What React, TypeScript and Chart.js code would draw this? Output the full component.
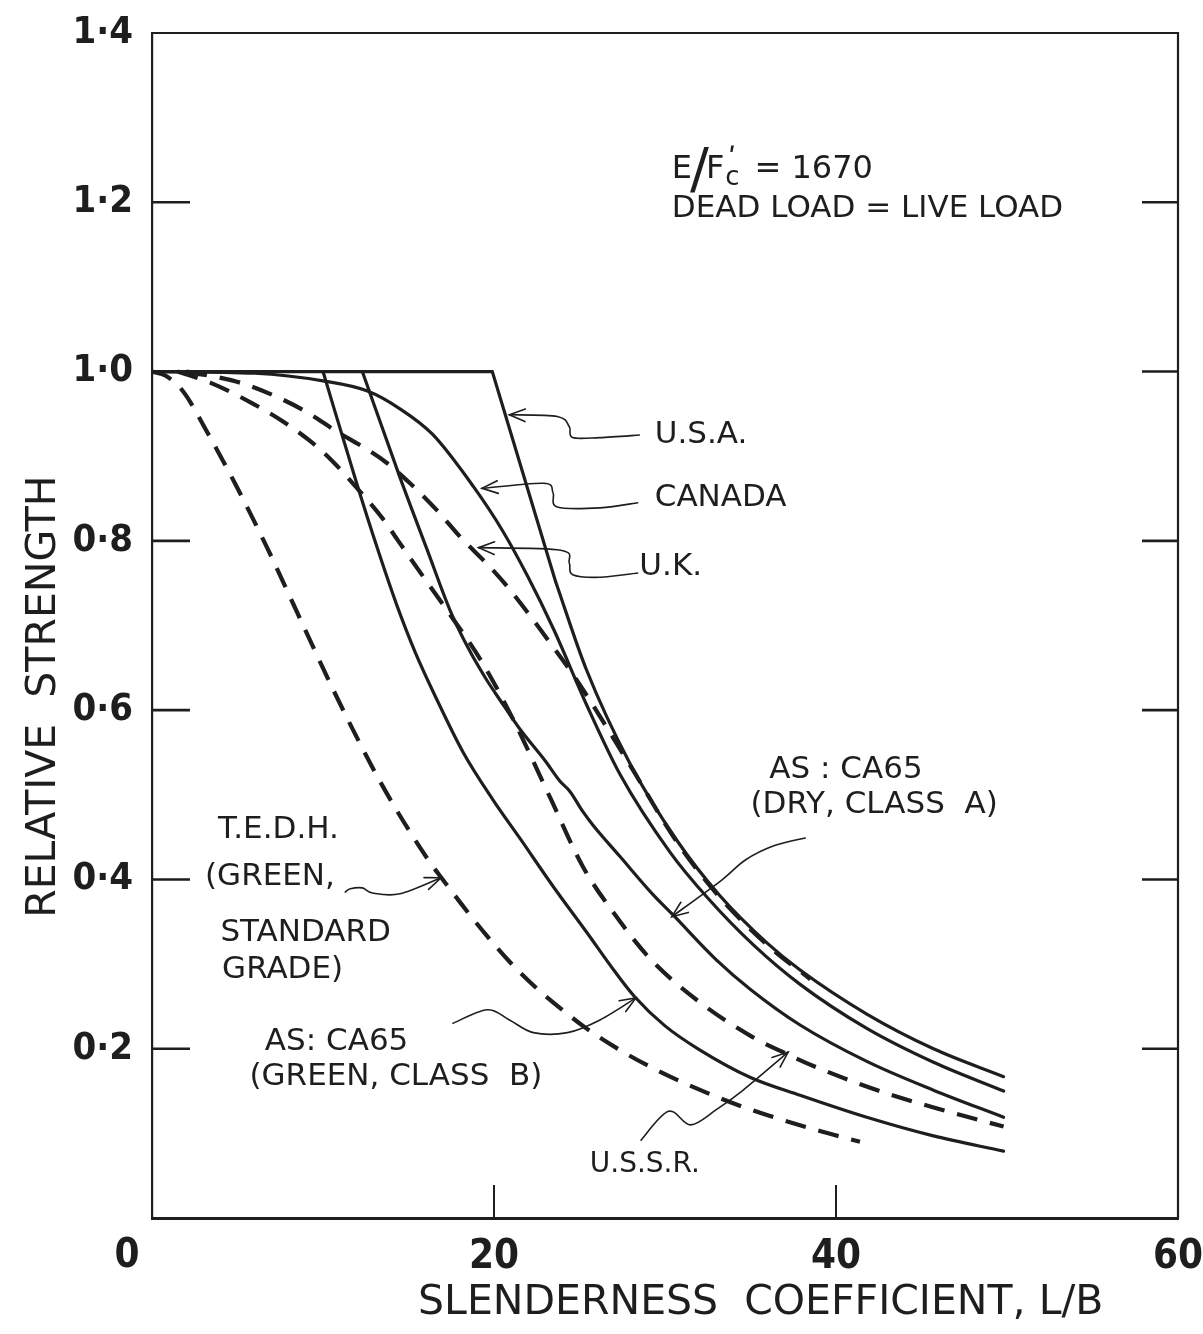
import React, { useEffect, useRef } from 'react';
import { Chart, registerables } from 'chart.js';

Chart.register(...registerables);

const INK = '#1e1e1e';
const FONT = "'DejaVu Sans', sans-serif";
const TICK_FONT = "'Liberation Sans Narrow', 'DejaVu Sans Condensed', 'DejaVu Sans', sans-serif";

// axis
const X_MIN = 0;
const X_MAX = 60;
const Y_MIN = 0;
const Y_MAX = 1.4;
const INNER_Y_TICKS = [0.2, 0.4, 0.6, 0.8, 1.0, 1.2];
const INNER_X_TICKS = [20, 40];

// U.S.A. (solid) – flat + straight part, then curve
const USA_LIN_X = [0, 19.9, 23.6];
const USA_LIN_Y = [1.0, 1.0, 0.752];
const USA_CUR_X = [23.6, 25.4, 27.95, 30.7, 33.2, 35.96, 37.9, 41.8, 45.7, 49.8];
const USA_CUR_Y = [0.752, 0.648, 0.537, 0.446, 0.381, 0.325, 0.293, 0.241, 0.2, 0.167];

// CANADA (solid)
const CAN_X = [0, 6, 10, 12.6, 14.5, 16.4, 18.8, 20.5, 22, 23.5, 25.4, 27.4, 30.3, 32.5, 35.2, 37.9, 41.8, 45.7, 49.8];
const CAN_Y = [1.0, 0.998, 0.989, 0.977, 0.956, 0.926, 0.864, 0.812, 0.757, 0.695, 0.607, 0.523, 0.432, 0.378, 0.322, 0.276, 0.224, 0.184, 0.15];

// U.K. (dashed)
const UK_X = [2, 4.97, 7.31, 9.06, 10.82, 12.34, 13.74, 15.09, 16.67, 18.01, 19.77, 20.94, 22.9, 24.85, 27.95, 30.7, 33.2, 35.96, 38.5];
const UK_Y = [1.0, 0.988, 0.97, 0.952, 0.929, 0.911, 0.892, 0.868, 0.836, 0.805, 0.769, 0.742, 0.69, 0.635, 0.535, 0.444, 0.379, 0.323, 0.282];

// AS: CA65 (DRY, CLASS A) (solid)
const ASA_X = [12.3, 14.5, 16.1, 17.43, 18.5, 19.5, 20.35, 21.5, 23.0, 23.86, 24.44, 25.2, 25.79, 27.37, 29.3, 30.47, 33.0, 35.0, 37.9, 41.8, 45.7, 49.8];
const ASA_Y = [1.0, 0.875, 0.789, 0.718, 0.673, 0.638, 0.612, 0.578, 0.54, 0.516, 0.504, 0.48, 0.464, 0.427, 0.382, 0.358, 0.305, 0.27, 0.228, 0.185, 0.151, 0.119];

// AS: CA65 (GREEN, CLASS B) (solid)
const ASB_X = [10.0, 12.0, 13.2, 14.3, 15.4, 16.6, 18.2, 19.94, 21.5, 23.45, 25.44, 27.0, 28.2, 30.0, 32.0, 35.0, 37.9, 41.8, 45.7, 49.8];
const ASB_Y = [1.0, 0.866, 0.79, 0.725, 0.668, 0.615, 0.55, 0.494, 0.449, 0.392, 0.337, 0.293, 0.262, 0.227, 0.199, 0.166, 0.145, 0.119, 0.097, 0.079];

// U.S.S.R. (dashed)
const USSR_X = [1.5, 3.4, 5.73, 7.66, 9.24, 10.41, 12.0, 13.5, 14.4, 15.85, 17.25, 19.2, 21.1, 23.3, 25.2, 27.2, 29.1, 31.9, 35.1, 37.1, 39.1, 43.0, 46.7, 49.8];
const USSR_Y = [1.0, 0.987, 0.964, 0.941, 0.918, 0.897, 0.862, 0.826, 0.8, 0.758, 0.718, 0.66, 0.59, 0.496, 0.415, 0.355, 0.307, 0.257, 0.214, 0.194, 0.176, 0.147, 0.125, 0.108];

// T.E.D.H. (GREEN, STANDARD GRADE) (dashed)
const TEDH_X = [0, 0.8, 1.8, 3.27, 4.85, 6.78, 8.25, 10.6, 12.9, 14.3, 16.26, 17.0, 18.4, 19.6, 20.9, 22.3, 24.3, 25.4, 27.4, 29.1, 31.05, 34.6, 38.5, 41.4];
const TEDH_Y = [1.0, 0.995, 0.977, 0.927, 0.868, 0.79, 0.726, 0.624, 0.532, 0.482, 0.42, 0.4, 0.363, 0.333, 0.303, 0.275, 0.241, 0.224, 0.198, 0.179, 0.16, 0.131, 0.106, 0.09];

// leader lines (label end -> arrow tip), data units
const LEAD_USA_X = [28.5, 26.2, 24.6, 24.4, 23.7, 20.9];
const LEAD_USA_Y = [0.925, 0.922, 0.922, 0.935, 0.947, 0.949];
const LEAD_CAN_X = [28.4, 26.2, 23.7, 23.45, 22.9, 19.3];
const LEAD_CAN_Y = [0.845, 0.839, 0.84, 0.857, 0.868, 0.862];
const LEAD_UK_X = [28.4, 26.2, 24.6, 24.4, 23.9, 19.1];
const LEAD_UK_Y = [0.762, 0.757, 0.76, 0.774, 0.789, 0.792];
const LEAD_ASA_X = [38.2, 36.4, 34.7, 33.3, 30.4];
const LEAD_ASA_Y = [0.449, 0.44, 0.423, 0.399, 0.356];
const LEAD_TEDH_X = [11.3, 11.6, 12.3, 12.9, 14.5, 16.9];
const LEAD_TEDH_Y = [0.385, 0.389, 0.39, 0.384, 0.383, 0.402];
const LEAD_ASB_X = [17.6, 19.6, 20.9, 22.3, 24.3, 26.2, 28.3];
const LEAD_ASB_Y = [0.23, 0.246, 0.234, 0.219, 0.219, 0.234, 0.26];
const LEAD_USSR_X = [28.6, 30.2, 31.5, 33.0, 34.5, 37.2];
const LEAD_USSR_Y = [0.092, 0.126, 0.11, 0.128, 0.15, 0.196];

// labels (left aligned, vertically centred), data units
const LABEL_TEXT = ['U.S.A.', 'CANADA', 'U.K.', 'AS : CA65', '(DRY, CLASS  A)', 'T.E.D.H.', '(GREEN,', 'STANDARD', 'GRADE)', 'AS: CA65', '(GREEN, CLASS  B)', 'U.S.S.R.'];
const LABEL_X = [29.4, 29.4, 28.5, 36.1, 35.0, 3.86, 3.1, 4.0, 4.1, 6.6, 5.7, 25.6];
const LABEL_Y = [0.925, 0.851, 0.769, 0.529, 0.488, 0.458, 0.403, 0.337, 0.293, 0.208, 0.167, 0.063];

const NOTE_LINE2 = 'DEAD LOAD = LIVE LOAD';
const NOTE_X = 30.4;
const NOTE_Y1 = 1.238;
const NOTE_Y2 = 1.192;

const X_TITLE = 'SLENDERNESS  COEFFICIENT, L/B';
const Y_TITLE = 'RELATIVE  STRENGTH';

const pts = (xs: number[], ys: number[]) => xs.map((x, i) => ({ x, y: ys[i] }));

const solid = (label: string, xs: number[], ys: number[], curve = true) => ({
  label,
  data: pts(xs, ys),
  borderColor: INK,
  borderWidth: 3.2,
  pointRadius: 0,
  fill: false,
  tension: 0,
  cubicInterpolationMode: curve ? 'monotone' : 'default',
  borderCapStyle: 'round',
  borderJoinStyle: 'miter',
});

const dashed = (label: string, xs: number[], ys: number[]) => ({
  ...solid(label, xs, ys, true),
  borderWidth: 4.2,
  borderDash: [21, 13],
  borderCapStyle: 'butt',
});

function smoothPath(ctx: CanvasRenderingContext2D, P: number[][]) {
  ctx.moveTo(P[0][0], P[0][1]);
  for (let i = 0; i < P.length - 1; i++) {
    const p0 = P[i - 1] || P[i];
    const p1 = P[i];
    const p2 = P[i + 1];
    const p3 = P[i + 2] || P[i + 1];
    ctx.bezierCurveTo(
      p1[0] + (p2[0] - p0[0]) / 6, p1[1] + (p2[1] - p0[1]) / 6,
      p2[0] - (p3[0] - p1[0]) / 6, p2[1] - (p3[1] - p1[1]) / 6,
      p2[0], p2[1]
    );
  }
}

const zeroPad = (s: any) => {
  s.paddingLeft = 0;
  s.paddingRight = 0;
  s.paddingTop = 0;
  s.paddingBottom = 0;
};

const annotations = {
  id: 'annotations',
  afterDraw(chart: any) {
    const { ctx, chartArea: a, scales } = chart;
    const xs = scales.x;
    const ys = scales.y;
    const px = (v: number) => xs.getPixelForValue(v);
    const py = (v: number) => ys.getPixelForValue(v);
    ctx.save();
    ctx.strokeStyle = INK;
    ctx.fillStyle = INK;

    // top and right frame
    ctx.lineWidth = 2.2;
    ctx.beginPath();
    ctx.moveTo(a.left, a.top);
    ctx.lineTo(a.right, a.top);
    ctx.lineTo(a.right, a.bottom);
    ctx.stroke();

    // inward ticks
    ctx.lineWidth = 2.6;
    ctx.beginPath();
    INNER_Y_TICKS.forEach((v) => {
      const y = py(v);
      ctx.moveTo(a.left, y);
      ctx.lineTo(a.left + 38, y);
      ctx.moveTo(a.right, y);
      ctx.lineTo(a.right - 36, y);
    });
    ctx.stroke();
    ctx.lineWidth = 2;
    ctx.beginPath();
    INNER_X_TICKS.forEach((v) => {
      const x = px(v);
      ctx.moveTo(x, a.bottom);
      ctx.lineTo(x, a.bottom - 33);
    });
    ctx.stroke();

    // leader lines with open arrow heads
    const leaders = [
      [LEAD_USA_X, LEAD_USA_Y],
      [LEAD_CAN_X, LEAD_CAN_Y],
      [LEAD_UK_X, LEAD_UK_Y],
      [LEAD_ASA_X, LEAD_ASA_Y],
      [LEAD_TEDH_X, LEAD_TEDH_Y],
      [LEAD_ASB_X, LEAD_ASB_Y],
      [LEAD_USSR_X, LEAD_USSR_Y],
    ];
    ctx.lineWidth = 1.6;
    ctx.lineCap = 'round';
    leaders.forEach(([lx, ly]) => {
      const P = lx.map((x, i) => [px(x), py(ly[i])]);
      ctx.beginPath();
      smoothPath(ctx, P);
      ctx.stroke();
      const t = P[P.length - 1];
      const s = P[P.length - 2];
      const ang = Math.atan2(t[1] - s[1], t[0] - s[0]);
      const L = 17;
      ctx.beginPath();
      ctx.moveTo(t[0] - L * Math.cos(ang - 0.38), t[1] - L * Math.sin(ang - 0.38));
      ctx.lineTo(t[0], t[1]);
      ctx.lineTo(t[0] - L * Math.cos(ang + 0.38), t[1] - L * Math.sin(ang + 0.38));
      ctx.stroke();
    });

    // labels
    ctx.textBaseline = 'middle';
    ctx.textAlign = 'left';
    LABEL_TEXT.forEach((txt, i) => {
      ctx.font = `${txt === 'U.S.S.R.' ? 28 : 31}px ${FONT}`;
      ctx.fillText(txt, px(LABEL_X[i]), py(LABEL_Y[i]));
    });

    // note:  E / F'c = 1670
    let nx = px(NOTE_X);
    const ny = py(NOTE_Y1);
    ctx.font = `32px ${FONT}`;
    ctx.fillText('E', nx, ny);
    nx += ctx.measureText('E').width + 1;
    ctx.font = `56px ${FONT}`;
    ctx.fillText('/', nx - 3, ny + 2);
    nx += ctx.measureText('/').width - 6;
    ctx.font = `32px ${FONT}`;
    ctx.fillText('F', nx, ny);
    nx += ctx.measureText('F').width;
    ctx.font = `26px ${FONT}`;
    ctx.fillText('c', nx + 1, ny + 8);
    ctx.font = `bold 26px ${FONT}`;
    ctx.fillText('\u02B9', nx + 4, ny - 10);
    nx += 20;
    ctx.font = `32px ${FONT}`;
    ctx.fillText(' = 1670', nx, ny);
    ctx.font = `31px ${FONT}`;
    ctx.fillText(NOTE_LINE2, px(NOTE_X), py(NOTE_Y2));

    // axis titles
    ctx.font = `41px ${FONT}`;
    ctx.textAlign = 'center';
    ctx.fillText(X_TITLE, px(35.6), a.bottom + 85);
    ctx.save();
    ctx.translate(a.left - 108, py(0.616));
    ctx.rotate(-Math.PI / 2);
    ctx.fillText(Y_TITLE, 0, 0);
    ctx.restore();

    // origin label
    ctx.font = `bold 40px ${TICK_FONT}`;
    ctx.fillText('0', a.left - 25, a.bottom + 39);

    ctx.restore();
  },
};

export default function App() {
  const ref = useRef<HTMLCanvasElement | null>(null);
  useEffect(() => {
    document.body.style.margin = '0';
    const canvas = ref.current;
    if (!canvas) return;
    const chart = new Chart(canvas, {
      type: 'line',
      data: {
        datasets: [
          solid('U.S.A.', USA_LIN_X, USA_LIN_Y, false),
          solid('U.S.A. (curve)', USA_CUR_X, USA_CUR_Y, true),
          solid('CANADA', CAN_X, CAN_Y),
          dashed('U.K.', UK_X, UK_Y),
          solid('AS: CA65 (DRY, CLASS A)', ASA_X, ASA_Y),
          solid('AS: CA65 (GREEN, CLASS B)', ASB_X, ASB_Y),
          dashed('U.S.S.R.', USSR_X, USSR_Y),
          dashed('T.E.D.H.', TEDH_X, TEDH_Y),
        ] as any,
      },
      options: {
        animation: false,
        responsive: false,
        maintainAspectRatio: false,
        devicePixelRatio: 1,
        layout: { padding: { top: 33, right: 25, left: 0, bottom: 0 } },
        plugins: { legend: { display: false }, tooltip: { enabled: false } },
        scales: {
          x: {
            type: 'linear',
            min: X_MIN,
            max: X_MAX,
            ticks: {
              stepSize: 20,
              padding: 16,
              color: INK,
              font: { family: TICK_FONT, size: 40, weight: 'bold' },
              callback: (v: any) => (Number(v) === 0 ? '' : String(v)),
              maxRotation: 0,
            },
            grid: { display: false, drawTicks: false },
            border: { display: true, color: INK, width: 3 },
            afterFit: (s: any) => { s.height = 116; zeroPad(s); },
          },
          y: {
            type: 'linear',
            min: Y_MIN,
            max: Y_MAX,
            ticks: {
              stepSize: 0.2,
              padding: 19,
              color: INK,
              font: { family: TICK_FONT, size: 38, weight: 'bold' },
              callback: (v: any) => (Number(v) < 0.01 ? '' : Number(v).toFixed(1).replace('.', '\u00B7')),
            },
            grid: { display: false, drawTicks: false },
            border: { display: true, color: INK, width: 2.2 },
            afterFit: (s: any) => { s.width = 152; zeroPad(s); },
          },
        },
      } as any,
      plugins: [annotations],
    });
    return () => chart.destroy();
  }, []);
  return (
    <div style={{ width: 1203, height: 1334, background: '#fff' }}>
      <canvas ref={ref} width={1203} height={1334} style={{ display: 'block', width: 1203, height: 1334 }} />
    </div>
  );
}
